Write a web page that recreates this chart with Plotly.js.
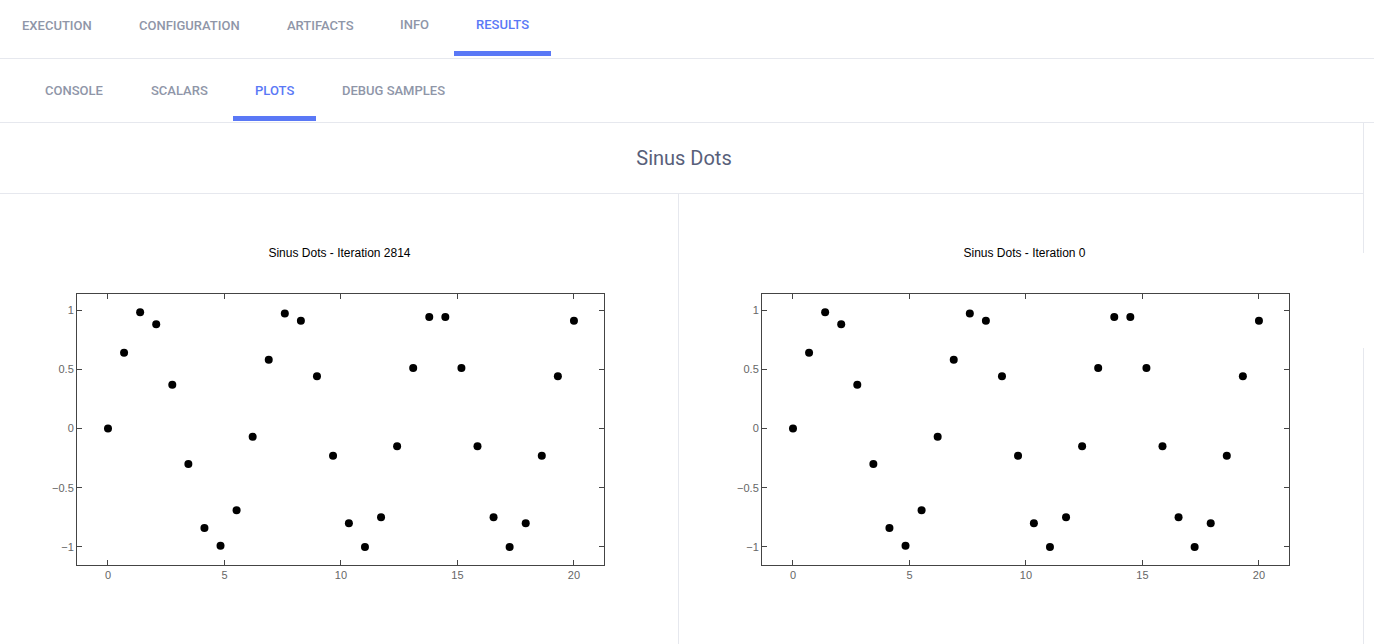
<!DOCTYPE html>
<html><head><meta charset="utf-8">
<script src="https://cdn.plot.ly/plotly-3.0.1.min.js"></script>
<style>
body{margin:0;width:1374px;height:644px;overflow:hidden;background:#fff;font-family:Roboto,sans-serif;position:relative}
.t{position:absolute;font-size:13px;font-weight:500;color:#8f96a8;letter-spacing:0}
.a{color:#5a78f6}
.bar{position:absolute;background:#5a78f6;height:5px}
.hl{position:absolute;left:0;background:#e6e8ee;height:1px;width:1374px}
.vl{position:absolute;width:1px;background:#e6e8ee;z-index:5}
</style></head><body>
<div class="t" style="left:22px;top:18px">EXECUTION</div>
<div class="t" style="left:139px;top:18px">CONFIGURATION</div>
<div class="t" style="left:287px;top:18px">ARTIFACTS</div>
<div class="t" style="left:400px;top:17px">INFO</div>
<div class="t a" style="left:476px;top:17px">RESULTS</div>
<div class="bar" style="left:454px;top:51px;width:97px"></div>
<div class="hl" style="top:58px"></div>
<div class="t" style="left:45px;top:83px">CONSOLE</div>
<div class="t" style="left:151px;top:83px">SCALARS</div>
<div class="t a" style="left:255px;top:83px">PLOTS</div>
<div class="t" style="left:342px;top:83px">DEBUG SAMPLES</div>
<div class="bar" style="left:233px;top:116px;width:83px"></div>
<div class="hl" style="top:122px"></div>
<div style="position:absolute;left:0;top:146px;width:1368px;text-align:center;font-size:20px;color:#58607a">Sinus Dots</div>
<div class="hl" style="top:193px;width:1364px"></div>
<div id="p1" style="position:absolute;left:0;top:230px;width:679px;height:380px"></div>
<div id="p2" style="position:absolute;left:685px;top:230px;width:679px;height:380px"></div>
<div class="vl" style="left:678px;top:194px;height:450px"></div>
<div class="vl" style="left:1363px;top:123px;height:130px"></div>
<div class="vl" style="left:1363px;top:348px;height:296px"></div>
<script>
const xs=[0,0.69,1.38,2.07,2.76,3.45,4.14,4.83,5.52,6.21,6.90,7.59,8.28,8.97,9.66,10.34,11.03,11.72,12.41,13.10,13.79,14.48,15.17,15.86,16.55,17.24,17.93,18.62,19.31,20];
const ys=[0,0.64,0.98,0.88,0.37,-0.30,-0.84,-0.99,-0.69,-0.07,0.58,0.97,0.91,0.44,-0.23,-0.80,-1.00,-0.75,-0.15,0.51,0.94,0.94,0.51,-0.15,-0.75,-1.00,-0.80,-0.23,0.44,0.91];
const titles=["Sinus Dots - Iteration 2814","Sinus Dots - Iteration 0"];
function draw(id,t){
 const ax={showgrid:false,zeroline:false,showline:true,mirror:'ticks',linecolor:'#444',linewidth:1,ticks:'inside',ticklen:5,tickcolor:'#444',tickfont:{size:11,color:'#666',family:'Liberation Sans, Arial'}};
 Plotly.newPlot(id,[{x:xs,y:ys,mode:'markers',type:'scatter',marker:{color:'#000',size:8}}],{
  width:679,height:380,margin:{l:77,r:75,t:64,b:45},showlegend:false,
  paper_bgcolor:'rgba(0,0,0,0)',plot_bgcolor:'#fff',
  title:{text:t,font:{size:12,color:'#000',family:'Liberation Sans, Arial'},x:0.5,xanchor:'center',y:0.939,yanchor:'middle'},
  xaxis:Object.assign({range:[-1.33,21.29],dtick:5},ax),
  yaxis:Object.assign({range:[-1.152,1.135],dtick:0.5},ax)
 },{displayModeBar:false,staticPlot:true});
}
draw('p1',titles[0]);draw('p2',titles[1]);
</script>
</body></html>
